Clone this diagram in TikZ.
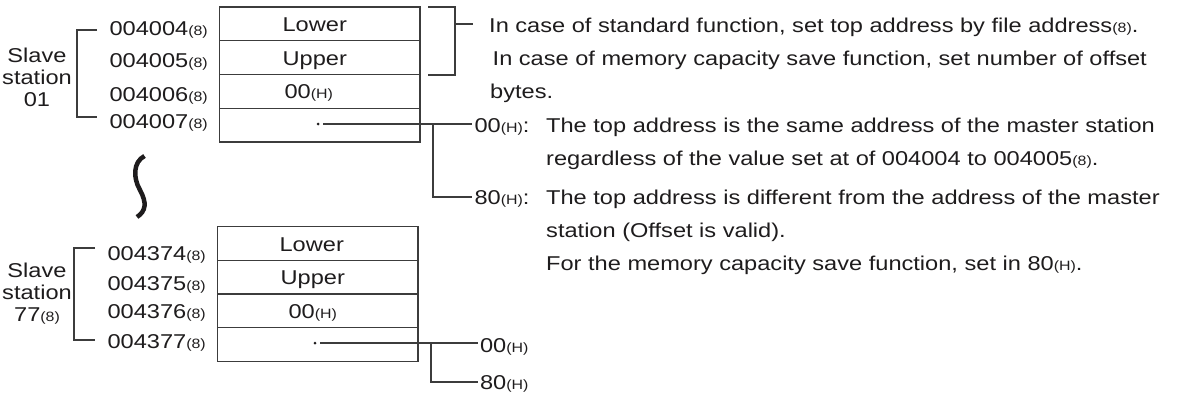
\documentclass[tikz,border=0pt]{standalone}
\usepackage{fontspec}
\setmainfont{Liberation Sans}[FakeStretch=1.18]
\definecolor{ink}{HTML}{1E1C1D}
\definecolor{rule}{HTML}{3C3C3C}
\newcommand{\radix}[1]{{\fontsize{13.5}{13.5}\selectfont #1}}

\begin{document}
\begin{tikzpicture}[
  x=1pt, y=-1pt,
  every node/.style={font=\fontsize{20}{22}\selectfont, text=ink, inner sep=0pt},
  cell/.style={draw=rule, line width=1.1pt, minimum width=200.5pt, minimum height=33.75pt, text height=15pt, text depth=-6pt},
  addr/.style={anchor=base east},
  txt/.style={anchor=base west},
  vlab/.style={anchor=base west, outer xsep=2.5pt, text height=14pt, text depth=0pt},
  link/.style={draw=rule, line width=1.1pt},
  dotmark/.style={circle, fill=ink, minimum size=3pt, outer sep=3.5pt},
]
\useasboundingbox (0,0) rectangle (1182,394);

% Slave station 01
\node[cell] (t1) at (319.75,23.9)  {Lower\hspace*{10pt}};
\node[cell] (t2) at (319.75,57.6)  {Upper\hspace*{10pt}};
\node[cell] (t3) at (319.75,91.4)  {00\radix{(H)}\hspace*{22pt}};
\node[cell] (t4) at (319.75,125.1) {};
\node[dotmark] (d1) at (318,124) {};

\node[addr] (a1) at (208,35)    {004004\radix{(8)}};
\node[addr] (a2) at (208,67)    {004005\radix{(8)}};
\node[addr] (a3) at (208,101.7) {004006\radix{(8)}};
\node[addr] (a4) at (208,128)   {004007\radix{(8)}};
\node[align=center] (s1) at (37,77) {Slave\\station\\01};
\draw[link] (97,30) -- (77,30) -- (77,117) -- (97,117);

% Gap
\draw[ink, line width=4.5pt] (144.5,156) .. controls (133,162) and (133,178) .. (140,190)
  .. controls (147,203) and (146,211) .. (137,217);

% Slave station 77
\node[cell] (u1) at (317.75,243.75) {Lower\hspace*{12pt}};
\node[cell] (u2) at (317.75,277.25) {Upper\hspace*{10pt}};
\node[cell] (u3) at (317.75,310.75) {00\radix{(H)}\hspace*{10pt}};
\node[cell] (u4) at (317.75,344.25) {};
\node[dotmark] (d2) at (315,343) {};

\node[addr] (b1) at (206,260) {004374\radix{(8)}};
\node[addr] (b2) at (206,290) {004375\radix{(8)}};
\node[addr] (b3) at (206,318) {004376\radix{(8)}};
\node[addr] (b4) at (206,348) {004377\radix{(8)}};
\node[align=center] (s2) at (37,294) {Slave\\station\\77\radix{(8)}};
\draw[link] (95,248) -- (74,248) -- (74,340) -- (95,340);

% Top address setting
\draw[link] (428,7) -- (455,7) -- (455,75) -- (428,75);
\coordinate (brk) at (455,24);
\draw[link] (brk) -- ++(18,0);
\node[txt] (r1) at (489,32.7)  {In case of standard function, set top address by file address\radix{(8)}.};
\node[txt] (r2) at (492.5,65)  {In case of memory capacity save function, set number of offset};
\node[txt] (r3) at (490,98)    {bytes.};

% Offset flag
\node[vlab] (v00) at (472,132) {00\radix{(H)}:};
\node[txt] (n1) at (546,132) {The top address is the same address of the master station};
\node[txt] (n2) at (546,165) {regardless of the value set at of 004004 to 004005\radix{(8)}.};
\node[vlab] (v80) at (472,204) {80\radix{(H)}:};
\node[txt] (n3) at (546,204) {The top address is different from the address of the master};
\node[txt] (n4) at (546,237) {station (Offset is valid).};
\node[txt] (n5) at (546,270) {For the memory capacity save function, set in 80\radix{(H)}.};

\coordinate (j1) at (433,124);
\draw[link] (d1.east) -- (d1.east -| v00.west);
\draw[link] (j1) |- (v80.west);

\node[vlab] (w00) at (477.5,352) {00\radix{(H)}};
\node[vlab] (w80) at (477.5,389) {80\radix{(H)}};
\coordinate (j2) at (431,343);
\draw[link] (d2.east) -- (d2.east -| w00.west);
\draw[link] (j2) |- (w80.west);

\end{tikzpicture}
\end{document}
